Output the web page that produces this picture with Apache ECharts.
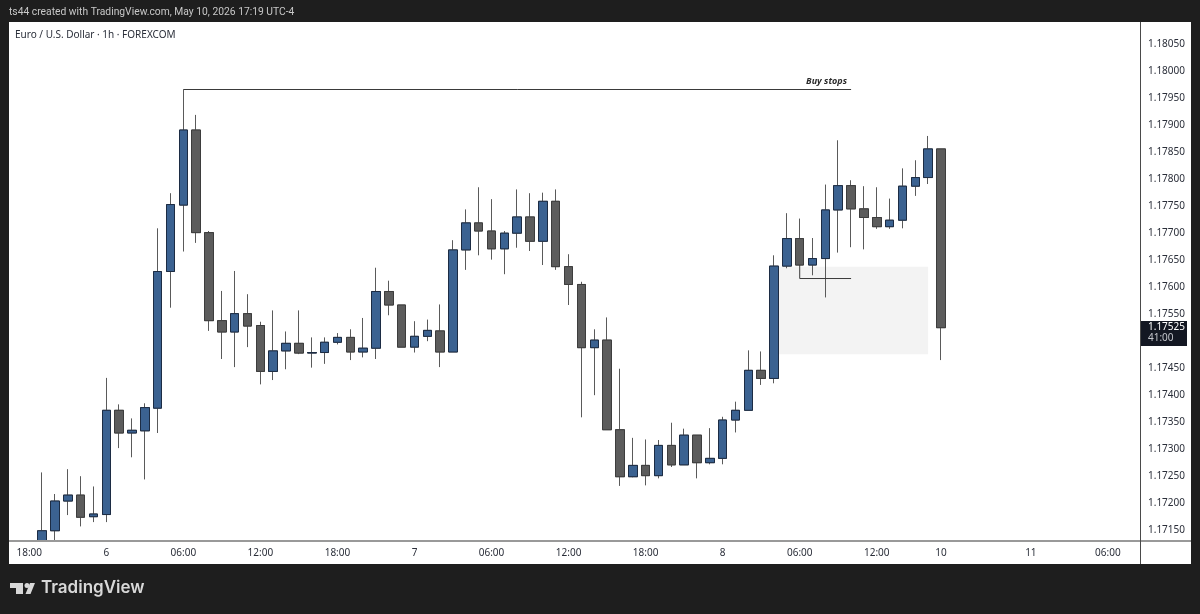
<!DOCTYPE html>
<html>
<head>
<meta charset="utf-8">
<title>EURUSD 1h</title>
<script src="https://cdn.jsdelivr.net/npm/echarts@6/dist/echarts.min.js"></script>
<style>
  html, body { margin: 0; padding: 0; background: #1e1e1e; }
  #chart { width: 1200px; height: 614px; }
</style>
</head>
<body>
<div id="chart"></div>
<script>
// hourly slots, 5 May 17:00 -> 11 May 08:00 (market shut between 8th 16:00 and 10th 17:00)
var categories = [
  '5 17:00', '5 18:00', '5 19:00', '5 20:00', '5 21:00', '5 22:00', '5 23:00',
  '6 00:00', '6 01:00', '6 02:00', '6 03:00', '6 04:00', '6 05:00', '6 06:00', '6 07:00', '6 08:00', '6 09:00', '6 10:00', '6 11:00',
  '6 12:00', '6 13:00', '6 14:00', '6 15:00', '6 16:00', '6 17:00', '6 18:00', '6 19:00', '6 20:00', '6 21:00', '6 22:00', '6 23:00',
  '7 00:00', '7 01:00', '7 02:00', '7 03:00', '7 04:00', '7 05:00', '7 06:00', '7 07:00', '7 08:00', '7 09:00', '7 10:00', '7 11:00',
  '7 12:00', '7 13:00', '7 14:00', '7 15:00', '7 16:00', '7 17:00', '7 18:00', '7 19:00', '7 20:00', '7 21:00', '7 22:00', '7 23:00',
  '8 00:00', '8 01:00', '8 02:00', '8 03:00', '8 04:00', '8 05:00', '8 06:00', '8 07:00', '8 08:00', '8 09:00', '8 10:00', '8 11:00',
  '8 12:00', '8 13:00', '8 14:00', '8 15:00', '8 16:00',
  '10 17:00', '10 18:00', '10 19:00', '10 20:00', '10 21:00', '10 22:00', '10 23:00',
  '11 00:00', '11 01:00', '11 02:00', '11 03:00', '11 04:00', '11 05:00', '11 06:00', '11 07:00', '11 08:00'
];

// first two slots have no visible candle; the first candles run off the bottom of the pane
var opens = ['-', '-',
  1.17130, 1.17149, 1.17204, 1.17215, 1.17175, 1.17179, 1.17372, 1.17330, 1.17334, 1.17376,
  1.17629, 1.17752, 1.17891, 1.17701, 1.17538, 1.17517, 1.17551, 1.17529, 1.17444, 1.17482,
  1.17496, 1.17478, 1.17479, 1.17498, 1.17507, 1.17480, 1.17487, 1.17592, 1.17567, 1.17489,
  1.17509, 1.17519, 1.17480, 1.17669, 1.17719, 1.17704, 1.17671, 1.17700, 1.17730, 1.17685,
  1.17759, 1.17638, 1.17605, 1.17488, 1.17502, 1.17336, 1.17249, 1.17270, 1.17251, 1.17307,
  1.17271, 1.17326, 1.17275, 1.17283, 1.17354, 1.17372, 1.17446, 1.17431, 1.17639, 1.17690,
  1.17641, 1.17653, 1.17743, 1.17788, 1.17745, 1.17729, 1.17712, 1.17724, 1.17787, 1.17803,
  1.17856
];
var closes = ['-', '-',
  1.17149, 1.17204, 1.17215, 1.17174, 1.17180, 1.17372, 1.17330, 1.17335, 1.17377, 1.17629,
  1.17753, 1.17891, 1.17701, 1.17538, 1.17517, 1.17551, 1.17528, 1.17444, 1.17482, 1.17496,
  1.17478, 1.17479, 1.17498, 1.17507, 1.17480, 1.17487, 1.17592, 1.17567, 1.17489, 1.17509,
  1.17520, 1.17480, 1.17669, 1.17719, 1.17704, 1.17671, 1.17700, 1.17730, 1.17685, 1.17759,
  1.17638, 1.17605, 1.17488, 1.17502, 1.17336, 1.17249, 1.17270, 1.17251, 1.17307, 1.17271,
  1.17326, 1.17275, 1.17283, 1.17354, 1.17372, 1.17446, 1.17431, 1.17639, 1.17690, 1.17641,
  1.17653, 1.17743, 1.17788, 1.17745, 1.17729, 1.17712, 1.17724, 1.17787, 1.17803, 1.17856,
  1.17525
];
var lows = ['-', '-',
  1.17130, 1.17130, 1.17178, 1.17157, 1.17165, 1.17165, 1.17302, 1.17285, 1.17244, 1.17330,
  1.17562, 1.17666, 1.17682, 1.17519, 1.17467, 1.17452, 1.17489, 1.17420, 1.17428, 1.17448,
  1.17476, 1.17451, 1.17458, 1.17494, 1.17465, 1.17470, 1.17467, 1.17548, 1.17489, 1.17479,
  1.17500, 1.17452, 1.17480, 1.17632, 1.17659, 1.17651, 1.17624, 1.17673, 1.17667, 1.17641,
  1.17632, 1.17567, 1.17359, 1.17400, 1.17336, 1.17232, 1.17248, 1.17233, 1.17246, 1.17267,
  1.17271, 1.17246, 1.17272, 1.17272, 1.17331, 1.17372, 1.17419, 1.17422, 1.17635, 1.17641,
  1.17622, 1.17581, 1.17664, 1.17674, 1.17670, 1.17708, 1.17708, 1.17709, 1.17769, 1.17791,
  1.17465
];
var highs = ['-', '-',
  1.17257, 1.17217, 1.17263, 1.17250, 1.17231, 1.17432, 1.17383, 1.17357, 1.17385, 1.17709,
  1.17774, 1.17966, 1.17919, 1.17704, 1.17593, 1.17630, 1.17587, 1.17536, 1.17557, 1.17518,
  1.17557, 1.17507, 1.17507, 1.17515, 1.17522, 1.17543, 1.17636, 1.17612, 1.17567, 1.17537,
  1.17540, 1.17568, 1.17687, 1.17744, 1.17785, 1.17763, 1.17704, 1.17781, 1.17774, 1.17775,
  1.17781, 1.17661, 1.17610, 1.17522, 1.17544, 1.17449, 1.17321, 1.17318, 1.17317, 1.17349,
  1.17338, 1.17326, 1.17339, 1.17360, 1.17388, 1.17483, 1.17481, 1.17659, 1.17737, 1.17727,
  1.17691, 1.17790, 1.17872, 1.17798, 1.17787, 1.17785, 1.17764, 1.17820, 1.17835, 1.17880,
  1.17856
];

var priceTicks = [1.1715, 1.172, 1.1725, 1.173, 1.1735, 1.174, 1.1745, 1.175, 1.1755, 1.176,
  1.1765, 1.177, 1.1775, 1.178, 1.1785, 1.179, 1.1795, 1.18, 1.1805];
var timeTickSlots = ['5 18:00', '6 00:00', '6 06:00', '6 12:00', '6 18:00', '7 00:00', '7 06:00', '7 12:00',
  '7 18:00', '8 00:00', '8 06:00', '8 12:00', '10 17:00', '11 00:00', '11 06:00'];
var timeTickLabels = ['18:00', '6', '06:00', '12:00', '18:00', '7', '06:00', '12:00',
  '18:00', '8', '06:00', '12:00', '10', '11', '06:00'];

// drawings on the chart
var buyStopsLine = [['6 06:00', 1.17966], ['8 10:00', 1.17966]];
var swingLowLine = [['8 06:00', 1.17641], ['8 06:00', 1.17616], ['8 10:00', 1.17616]];
var zoneSlots = ['8 04:00', '8 16:00'];
var zonePrices = [1.17638, 1.17476];

var lastPrice = '1.17525';
var countdown = '41:00';
var headerText = 'ts44 created with TradingView.com, May 10, 2026 17:19 UTC-4';
var symbolText = 'Euro / U.S. Dollar \u00b7 1h \u00b7 FOREXCOM';

var FONT = '"Noto Sans", sans-serif';

var chart = echarts.init(document.getElementById('chart'), null, { renderer: 'canvas' });

var wickData = opens.map(function (o, i) {
  return [o, closes[i], lows[i], highs[i]];
});
// body layer has no wick: low/high sit on the body edges
var bodyData = opens.map(function (o, i) {
  if (o === '-') return ['-', '-', '-', '-'];
  return [o, closes[i], Math.min(o, closes[i]), Math.max(o, closes[i])];
});

chart.setOption({
  animation: false,
  backgroundColor: '#1e1e1e',
  title: [
    { text: headerText, left: 9, top: 7, padding: 0, textStyle: { color: '#c8c8c8', fontSize: 10.3, fontWeight: 'normal', fontFamily: 'Roboto, sans-serif' } },
    { text: symbolText, left: 15, top: 30, padding: 0, textStyle: { color: '#2a2e39', fontSize: 10, fontWeight: 'normal', fontFamily: FONT } }
  ],
  grid: { left: 10, right: 60, top: 22, bottom: 73, show: false },
  xAxis: {
    type: 'category',
    data: categories,
    boundaryGap: true,
    axisLine: { show: false },
    axisTick: { show: false },
    splitLine: { show: false },
    axisLabel: {
      interval: function (i, v) { return timeTickSlots.indexOf(v) > -1; },
      formatter: function (v) { return timeTickLabels[timeTickSlots.indexOf(v)]; },
      color: '#2a2e39',
      fontSize: 10,
      fontFamily: FONT,
      margin: 7
    }
  },
  yAxis: {
    type: 'value',
    position: 'right',
    min: 1.1713,
    max: 1.18091,
    axisLine: { show: false },
    axisTick: { show: false },
    splitLine: { show: false },
    axisLabel: {
      customValues: priceTicks,
      formatter: function (v) { return v.toFixed(5); },
      color: '#2a2e39',
      fontSize: 10,
      fontFamily: FONT,
      margin: 8
    }
  },
  graphic: [
    { type: 'rect', z: -10, shape: { x: 9, y: 22, width: 1182, height: 542 }, style: { fill: '#ffffff' }, silent: true },
    { type: 'line', z: 5, shape: { x1: 9, y1: 541, x2: 1191, y2: 541 }, style: { stroke: '#999999', lineWidth: 2 }, silent: true },
    { type: 'line', z: 5, shape: { x1: 1140.5, y1: 22, x2: 1140.5, y2: 564 }, style: { stroke: '#4a4a4a', lineWidth: 1 }, silent: true },
    { type: 'rect', z: 6, shape: { x: 1141, y: 321, width: 46, height: 25 }, style: { fill: '#131722' }, silent: true },
    { type: 'text', z: 7, x: 1148, y: 322, style: { text: lastPrice, fill: '#ffffff', font: '10px ' + FONT }, silent: true },
    { type: 'text', z: 7, x: 1148, y: 333, style: { text: countdown, fill: '#c4c6cc', font: '10px ' + FONT }, silent: true },
    // logo
    { type: 'rect', shape: { x: 10, y: 583, width: 13, height: 5 }, style: { fill: '#d8d8d8' }, silent: true },
    { type: 'rect', shape: { x: 16, y: 588, width: 7, height: 6 }, style: { fill: '#d8d8d8' }, silent: true },
    { type: 'circle', shape: { cx: 27, cy: 585.5, r: 2.5 }, style: { fill: '#d8d8d8' }, silent: true },
    { type: 'polygon', shape: { points: [[30, 583], [35, 583], [30.5, 594], [25.5, 594]] }, style: { fill: '#d8d8d8' }, silent: true },
    { type: 'text', x: 41, y: 579, style: { text: 'TradingView', fill: '#d8d8d8', font: '600 17px Inter, ' + FONT }, silent: true }
  ],
  series: [
    {
      type: 'line',
      name: 'zone',
      data: [],
      z: 1,
      silent: true,
      markArea: {
        silent: true,
        itemStyle: { color: '#f3f3f3' },
        data: [[{ xAxis: zoneSlots[0], yAxis: zonePrices[0] }, { xAxis: zoneSlots[1], yAxis: zonePrices[1] }]]
      }
    },
    {
      type: 'candlestick',
      name: 'wicks',
      data: wickData,
      barWidth: 9,
      z: 2,
      silent: true,
      itemStyle: { color: '#666666', color0: '#666666', borderColor: '#5a5a5a', borderColor0: '#5a5a5a', borderWidth: 1 }
    },
    {
      type: 'candlestick',
      name: 'bodies',
      data: bodyData,
      barWidth: 9,
      z: 3,
      silent: true,
      itemStyle: { color: '#3b6291', color0: '#5c5c5c', borderColor: '#1c2c44', borderColor0: '#3d3d3d', borderWidth: 1 }
    },
    {
      type: 'line',
      name: 'buy stops',
      data: buyStopsLine,
      symbol: 'none',
      z: 4,
      silent: true,
      lineStyle: { color: '#3a3a3a', width: 1 },
      endLabel: {
        show: true,
        formatter: 'Buy stops',
        position: 'insideEndTop',
        offset: [-53, -8],
        color: '#2a2a2a',
        fontSize: 9,
        fontStyle: 'italic',
        fontWeight: 'bold',
        fontFamily: FONT
      }
    },
    {
      type: 'line',
      name: 'swing low',
      data: swingLowLine,
      symbol: 'none',
      z: 4,
      silent: true,
      lineStyle: { color: '#3a3a3a', width: 1 }
    }
  ]
});
</script>
</body>
</html>
